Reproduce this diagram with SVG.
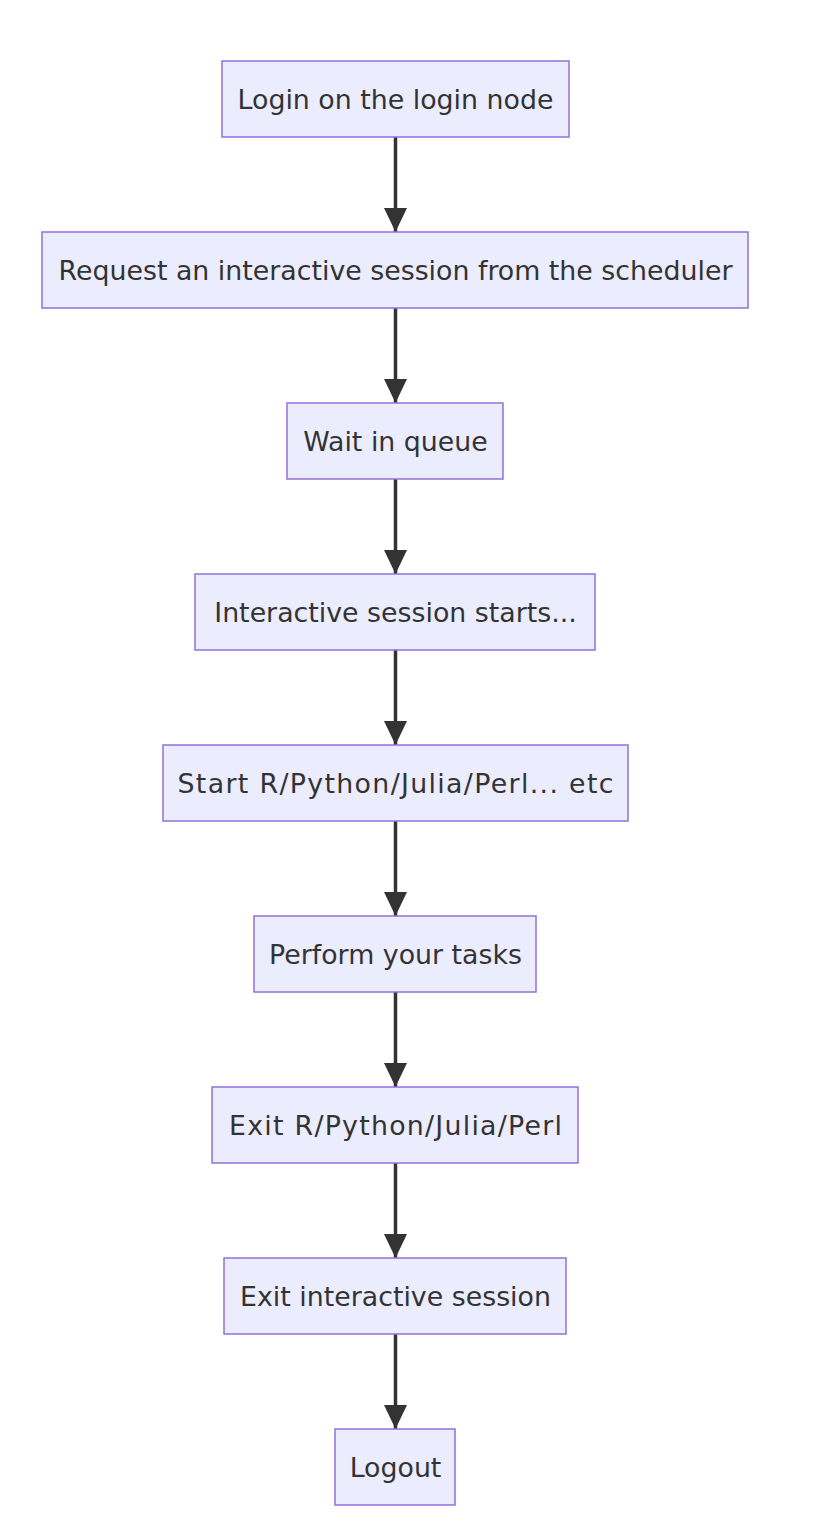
<svg xmlns="http://www.w3.org/2000/svg" width="838" height="1534" viewBox="0 0 838 1534">
<style>
.node rect{fill:#ECECFF;stroke:#9370DB;stroke-width:1.5}
.node text{font-family:"DejaVu Sans",sans-serif;font-size:26.8px;fill:#333;text-anchor:middle}
.edge{stroke:#333;stroke-width:3.5;fill:none}
</style>
<defs>
<marker id="arrow" markerUnits="userSpaceOnUse" markerWidth="24" markerHeight="24" refX="24" refY="12" orient="auto" viewBox="0 0 24 24">
<path d="M0,0.5 L24,12 L0,23.5 Z" fill="#333"/>
</marker>
</defs>
<rect width="838" height="1534" fill="#fff"/>
<g id="connectors">
<line class="edge" x1="395.5" y1="137" x2="395.5" y2="232" marker-end="url(#arrow)"/>
<line class="edge" x1="395.5" y1="308" x2="395.5" y2="403" marker-end="url(#arrow)"/>
<line class="edge" x1="395.5" y1="479" x2="395.5" y2="574" marker-end="url(#arrow)"/>
<line class="edge" x1="395.5" y1="650" x2="395.5" y2="745" marker-end="url(#arrow)"/>
<line class="edge" x1="395.5" y1="821" x2="395.5" y2="916" marker-end="url(#arrow)"/>
<line class="edge" x1="395.5" y1="992" x2="395.5" y2="1087" marker-end="url(#arrow)"/>
<line class="edge" x1="395.5" y1="1163" x2="395.5" y2="1258" marker-end="url(#arrow)"/>
<line class="edge" x1="395.5" y1="1334" x2="395.5" y2="1429" marker-end="url(#arrow)"/>
</g>
<g id="n1" class="node"><rect x="222" y="61" width="347" height="76"/><text x="395.5" y="108.5">Login on the login node</text></g>
<g id="n2" class="node"><rect x="42" y="232" width="706" height="76"/><text x="395.5" y="279.5">Request an interactive session from the scheduler</text></g>
<g id="n3" class="node"><rect x="287" y="403" width="216" height="76"/><text x="395.5" y="450.5">Wait in queue</text></g>
<g id="n4" class="node"><rect x="195" y="574" width="400" height="76"/><text x="395.5" y="621.5">Interactive session starts...</text></g>
<g id="n5" class="node"><rect x="163" y="745" width="465" height="76"/><text x="395.5" y="792.5" textLength="436" lengthAdjust="spacing">Start R/Python/Julia/Perl... etc</text></g>
<g id="n6" class="node"><rect x="254" y="916" width="282" height="76"/><text x="395.5" y="963.5">Perform your tasks</text></g>
<g id="n7" class="node"><rect x="212" y="1087" width="366" height="76"/><text x="395.5" y="1134.5" textLength="333" lengthAdjust="spacing">Exit R/Python/Julia/Perl</text></g>
<g id="n8" class="node"><rect x="224" y="1258" width="342" height="76"/><text x="395.5" y="1305.5">Exit interactive session</text></g>
<g id="n9" class="node"><rect x="335" y="1429" width="120" height="76"/><text x="395.5" y="1476.5">Logout</text></g>
</svg>
